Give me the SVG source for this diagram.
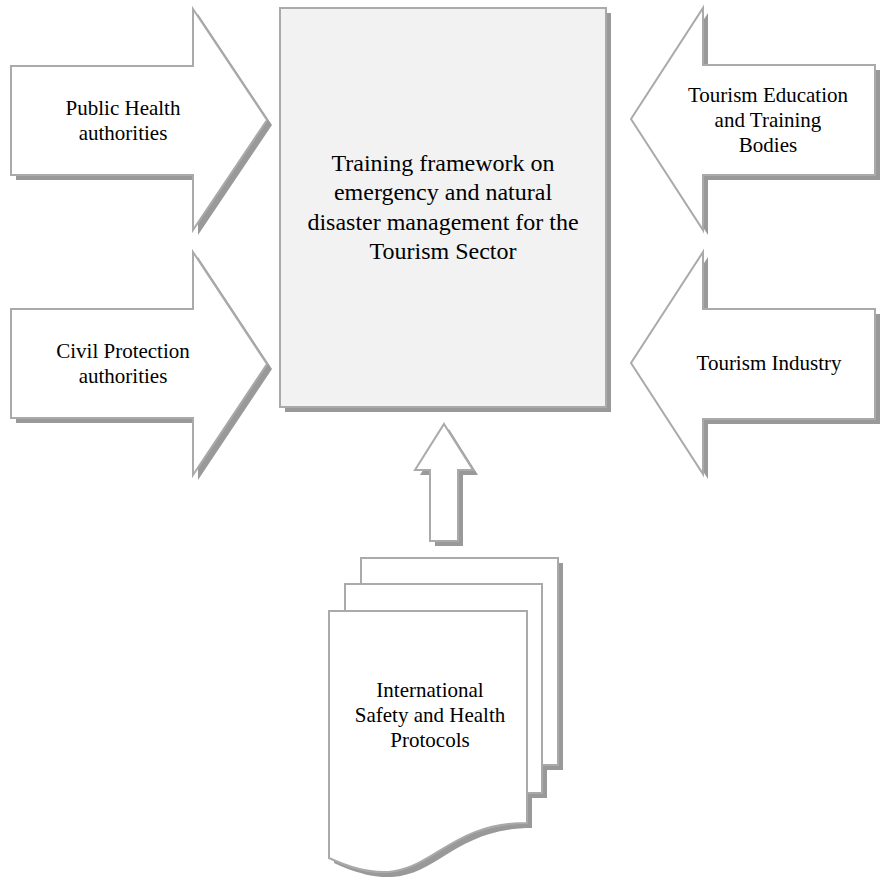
<svg xmlns="http://www.w3.org/2000/svg" xmlns:xlink="http://www.w3.org/1999/xlink" width="880" height="877" viewBox="0 0 880 877">
  <style>
    .shadow { fill: #999999; stroke: none; }
    .shape { fill: #ffffff; stroke: #aaaaaa; stroke-width: 2; stroke-linejoin: miter; }
    .box { fill: #f2f2f2; stroke: #aaaaaa; stroke-width: 2; }
    text { font-family: "Liberation Serif", "Times New Roman", serif; fill: #000000; text-anchor: middle; }
    .lbl { font-size: 21px; }
    .main { font-size: 24px; }
  </style>
  <defs>
    <path id="arrowPH" d="M11,66 H193 V9 L267,120 L193,230 V175 H11 Z"/>
    <path id="arrowCP" d="M11,309 H193 V252 L267,364 L193,475 V418 H11 Z"/>
    <path id="arrowTE" d="M875,65 H703 V8 L631,119 L703,230 V175 H875 Z"/>
    <path id="arrowTI" d="M875,309 H703 V252 L631,363 L703,474 V419 H875 Z"/>
    <rect id="mainRect" x="280" y="8" width="326" height="399"/>
    <path id="upArrow" d="M444,424 L473,470 H458 V541 H430 V470 H415 Z"/>
    <rect id="docBack" x="361" y="558" width="197" height="207"/>
    <rect id="docMid" x="345" y="584" width="197" height="209"/>
    <path id="docFront" d="M329,611 H527 V823 C428,823 428,904 329,858 Z"/>
  </defs>

  <g id="connectors">
    <use xlink:href="#upArrow" class="shadow" x="5" y="5"/>
    <use xlink:href="#upArrow" class="shape"/>
  </g>

  <g id="public-health">
    <use xlink:href="#arrowPH" class="shadow" x="5" y="5"/>
    <use xlink:href="#arrowPH" class="shape"/>
    <text class="lbl" x="123" y="115">Public Health</text>
    <text class="lbl" x="123" y="140">authorities</text>
  </g>

  <g id="civil-protection">
    <use xlink:href="#arrowCP" class="shadow" x="5" y="5"/>
    <use xlink:href="#arrowCP" class="shape"/>
    <text class="lbl" x="123" y="358">Civil Protection</text>
    <text class="lbl" x="123" y="383">authorities</text>
  </g>

  <g id="tourism-education">
    <use xlink:href="#arrowTE" class="shadow" x="5" y="5"/>
    <use xlink:href="#arrowTE" class="shape"/>
    <text class="lbl" x="768" y="102">Tourism Education</text>
    <text class="lbl" x="768" y="127">and Training</text>
    <text class="lbl" x="768" y="152">Bodies</text>
  </g>

  <g id="tourism-industry">
    <use xlink:href="#arrowTI" class="shadow" x="5" y="5"/>
    <use xlink:href="#arrowTI" class="shape"/>
    <text class="lbl" x="769" y="370">Tourism Industry</text>
  </g>

  <g id="training-framework">
    <use xlink:href="#mainRect" class="shadow" x="5" y="5"/>
    <use xlink:href="#mainRect" class="box"/>
    <text class="main" x="443" y="171">Training framework on</text>
    <text class="main" x="443" y="200">emergency and natural</text>
    <text class="main" x="443" y="230">disaster management for the</text>
    <text class="main" x="443" y="259">Tourism Sector</text>
  </g>

  <g id="protocols">
    <use xlink:href="#docBack" class="shadow" x="5" y="5"/>
    <use xlink:href="#docMid" class="shadow" x="5" y="5"/>
    <use xlink:href="#docFront" class="shadow" x="5" y="5"/>
    <use xlink:href="#docBack" class="shape"/>
    <use xlink:href="#docMid" class="shape"/>
    <use xlink:href="#docFront" class="shape"/>
    <text class="lbl" x="430" y="697">International</text>
    <text class="lbl" x="430" y="722">Safety and Health</text>
    <text class="lbl" x="430" y="747">Protocols</text>
  </g>
</svg>
